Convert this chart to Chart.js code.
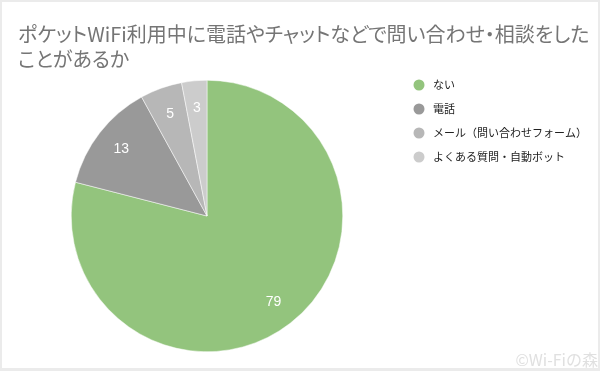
<!DOCTYPE html>
<html>
<head>
<meta charset="utf-8">
<script src="https://cdn.jsdelivr.net/npm/chart.js@4"></script>
<style>
  html, body { margin: 0; padding: 0; background: #fff; }
  #wrap { position: relative; width: 600px; height: 371px; }
  #title {
    position: absolute; left: 18px; top: 21px; width: 580px;
    font-family: "Noto Sans CJK JP", "Noto Sans", sans-serif;
    font-size: 20px; line-height: 25px; color: #757575;
    font-feature-settings: "palt";
    white-space: nowrap;
  }
</style>
</head>
<body>
<div id="wrap">
  <canvas id="myChart" width="600" height="371"></canvas>
  <div id="title"></div>
</div>
<script>
const titleLines = ['ポケットWiFi利用中に電話やチャットなどで問い合わせ・相談をした', 'ことがあるか'];
const labels = ['ない', '電話', 'メール（問い合わせフォーム）', 'よくある質問・自動ボット'];
const values = [79, 13, 5, 3];
const colors = ['#93c47d', '#999999', '#b7b7b7', '#cccccc'];
const watermark = '©Wi-Fiの森';

const jpFont = '"Noto Sans CJK JP", "Noto Sans", sans-serif';

document.getElementById('title').innerHTML = titleLines.join('<br>');

// frame, legend, slice values, watermark
const decor = {
  id: 'decor',
  beforeDraw(chart) {
    const c = chart.ctx;
    c.save();
    c.fillStyle = '#ebebeb';
    c.fillRect(0, 0, 600, 371);
    c.fillStyle = '#fff';
    c.fillRect(2, 2, 596, 366);
    c.restore();
  },
  afterDraw(chart) {
    const c = chart.ctx;
    c.save();
    c.font = '11px ' + jpFont;
    labels.forEach((lab, i) => {
      const y = 85 + i * 24;
      c.fillStyle = colors[i];
      c.beginPath();
      c.arc(419, y, 5.5, 0, Math.PI * 2);
      c.fill();
      c.fillStyle = '#222';
      c.textBaseline = 'middle';
      c.fillText(lab, 433, y);
    });

    // value labels inside slices
    const meta = chart.getDatasetMeta(0);
    c.fillStyle = '#fff';
    c.font = '14px "Liberation Sans", Arial, sans-serif';
    c.textAlign = 'center';
    c.textBaseline = 'middle';
    meta.data.forEach((arc, i) => {
      const mid = (arc.startAngle + arc.endAngle) / 2;
      const r = arc.outerRadius * 0.8;
      c.fillText(String(values[i]), arc.x + Math.cos(mid) * r, arc.y + Math.sin(mid) * r);
    });

    c.font = '16px ' + jpFont;
    c.fillStyle = '#e0e0e0';
    c.textAlign = 'right';
    c.textBaseline = 'alphabetic';
    c.fillText(watermark, 598, 366);
    c.restore();
  }
};

const ctx = document.getElementById('myChart').getContext('2d');
const myChart = new Chart(ctx, {
  type: 'pie',
  data: {
    labels,
    datasets: [{
      data: values,
      backgroundColor: colors,
      borderWidth: 0.5,
      borderColor: '#ffffff',
    }],
  },
  options: {
    responsive: false,
    animation: false,
    layout: {
      padding: { left: 71, right: 257, top: 80, bottom: 19 },
    },
    plugins: {
      legend: { display: false },
      tooltip: { enabled: false },
    },
  },
  plugins: [decor],
});
</script>
</body>
</html>
